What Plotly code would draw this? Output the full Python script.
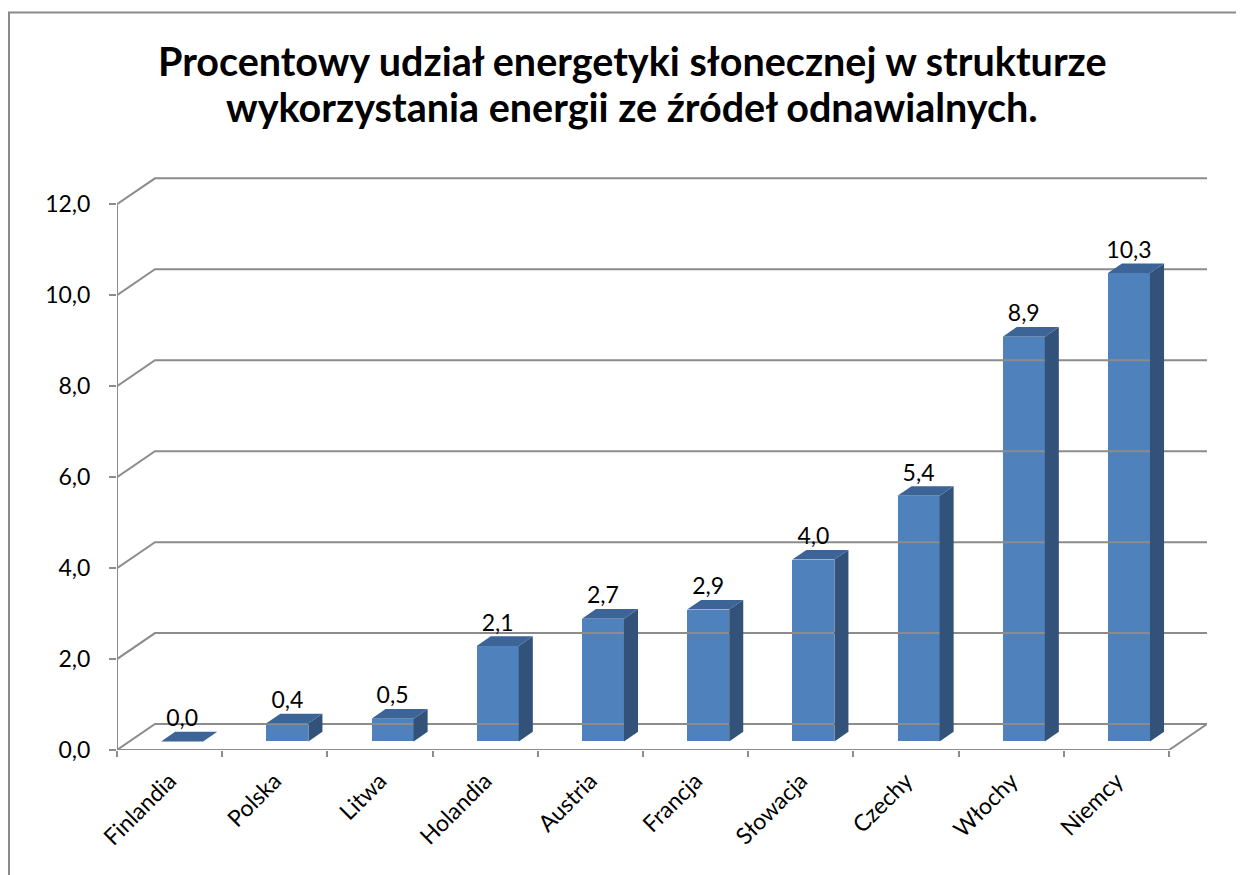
import plotly.graph_objects as go

# data
countries = ["Finlandia", "Polska", "Litwa", "Holandia", "Austria",
             "Francja", "Słowacja", "Czechy", "Włochy", "Niemcy"]
shares = [0.0, 0.4, 0.5, 2.1, 2.7, 2.9, 4.0, 5.4, 8.9, 10.3]
y_ticks = [0, 2, 4, 6, 8, 10, 12]
title_lines = ["Procentowy udział energetyki słonecznej w strukturze",
               "wykorzystania energii ze źródeł odnawialnych."]

# fake-3D geometry (in axis units)
DX, DY = 0.361, 0.571       # full depth of the chart box
D0, DD = 0.33, 0.37         # where the bar front sits / how deep the bar is
BAR_W = 0.4

GRID = "#8c8c8c"
FRONT, SIDE, TOP = "#4f81bd", "#32527a", "#3c6497"
FONT = "Lato, Open Sans, sans-serif"

# the page body adds 8px, so the figure is 8px smaller than the window
W, H = 1236, 867
ML, MR, MT, MB = 109, 37, 169, 125
PW, PH = W - ML - MR, H - MT - MB

n = len(countries)
fig = go.Figure()

# back-wall gridlines with the left-hand diagonal
for v in y_ticks:
    fig.add_trace(go.Scatter(
        x=[0, DX, n + DX], y=[v, v + DY, v + DY],
        mode="lines", line=dict(color=GRID, width=2),
        hoverinfo="skip", showlegend=False,
    ))
# front axis, floor front edge and right floor diagonal
fig.add_trace(go.Scatter(
    x=[0, 0, None, 0, n, n + DX], y=[0, max(y_ticks), None, 0, 0, DY],
    mode="lines", line=dict(color=GRID, width=2),
    hoverinfo="skip", showlegend=False,
))

base = D0 * DY
ddx, ddy = DD * DX, DD * DY
centers = [i + 0.5 + D0 * DX for i in range(n)]

# side and top faces of every column
for xc, v in zip(centers, shares):
    xl, xr, top = xc - BAR_W / 2, xc + BAR_W / 2, base + v
    if v > 0:
        fig.add_trace(go.Scatter(
            x=[xr, xr, xr + ddx, xr + ddx, xr],
            y=[base, top, top + ddy, base + ddy, base],
            mode="lines", fill="toself", fillcolor=SIDE, line=dict(width=0),
            hoverinfo="skip", showlegend=False,
        ))
    fig.add_trace(go.Scatter(
        x=[xl, xr, xr + ddx, xl + ddx, xl],
        y=[top, top, top + ddy, top + ddy, top],
        mode="lines", fill="toself", fillcolor=TOP, line=dict(width=0),
        hoverinfo="skip", showlegend=False,
    ))

# front faces
fig.add_trace(go.Bar(
    x=centers, y=shares, base=base, width=BAR_W,
    marker=dict(color=FRONT, line=dict(width=0)),
    hovertemplate="%{text}: %{y:.1f}<extra></extra>", text=countries,
    textposition="none", showlegend=False,
))

# value labels above each column
fig.add_trace(go.Scatter(
    x=centers, y=[base + v + ddy for v in shares],
    mode="text", text=[f"{v:.1f}".replace(".", ",") for v in shares],
    textposition="top center",
    textfont=dict(family=FONT, size=23, color="black"),
    hoverinfo="skip", showlegend=False,
))

# two title lines placed separately to keep Excel's tighter line spacing
title_y = [53, 98]  # centre of each line, px from the figure top
annotations = [
    dict(text=t, xref="paper", yref="paper",
         x=(624 - ML) / PW, y=(H - MB - ty) / PH,
         xanchor="center", yanchor="middle", showarrow=False,
         font=dict(family=FONT, size=39.5, color="black", weight="bold"))
    for t, ty in zip(title_lines, title_y)
]

fig.update_layout(
    width=W, height=H,
    paper_bgcolor="white", plot_bgcolor="white",
    margin=dict(l=ML, r=MR, t=MT, b=MB),
    separators=", ",
    font=dict(family=FONT, size=23, color="black"),
    annotations=annotations,
    bargap=0,
    shapes=[dict(
        type="rect", xref="paper", yref="paper",
        x0=(1 - ML) / PW, x1=1.2, y0=-0.3, y1=(H - MB - 4.5) / PH,
        line=dict(color="#8a8a8a", width=2), layer="below",
    )],
)
fig.update_xaxes(
    range=[0, n + DX], showgrid=False, zeroline=False, showline=False,
    tickmode="array", tickvals=[i + 0.5 for i in range(n)], ticktext=countries,
    tickangle=-45, ticks="", ticklabelstandoff=12,
    tickfont=dict(family=FONT, size=23, color="black"),
    minor=dict(tickmode="array", tickvals=list(range(n + 1)), ticks="outside",
               ticklen=6, tickwidth=2, tickcolor=GRID, showgrid=False),
    fixedrange=True,
)
fig.update_yaxes(
    range=[0, 12.6], showgrid=False, zeroline=False, showline=False,
    tickmode="array", tickvals=y_ticks, tickformat=".1f",
    ticks="outside", ticklen=7, tickwidth=2, tickcolor=GRID,
    ticklabelstandoff=14,
    tickfont=dict(family=FONT, size=23, color="black"),
    fixedrange=True,
)

fig.write_html("out.html")
